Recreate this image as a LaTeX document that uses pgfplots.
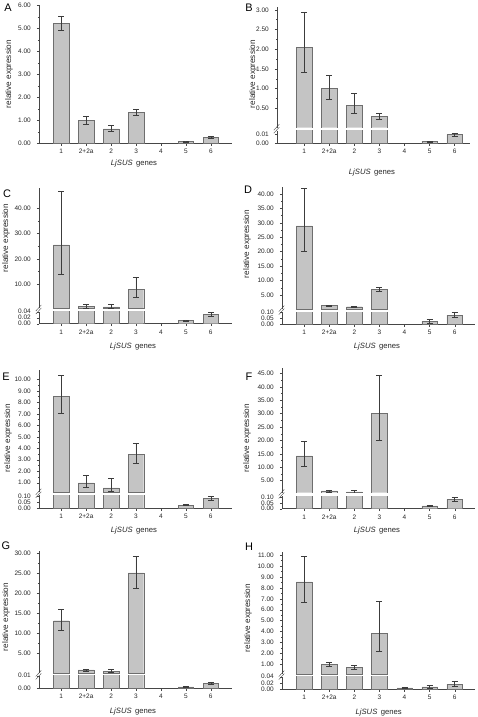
\documentclass[border=0pt]{standalone}
\usepackage{fontspec}
\setmainfont{Liberation Sans}
\usepackage{pgfplots}
\pgfplotsset{compat=1.18}
\definecolor{barfill}{RGB}{196,196,196}
\definecolor{baredge}{RGB}{110,110,110}
\definecolor{errcol}{RGB}{60,60,60}
\definecolor{axcol}{RGB}{70,70,70}
\newcommand\ticks{\fontsize{6.5}{7}\selectfont}
\newcommand\lab{\fontsize{8.2}{9}\selectfont}
\newcommand\xlab{\fontsize{7.7}{9}\selectfont}
\newcommand\panelfont{\fontsize{11}{12}\selectfont}
\pgfplotsset{
  base/.style={scale only axis, anchor=south west, axis y line*=left,
    clip=true, scaled y ticks=false,
    /pgf/number format/assume math mode=true,
    tick label style={font=\ticks, black!85},
    yticklabel style={xshift=-2.5bp, /pgf/number format/.cd, fixed, fixed zerofill, precision=2},
    axis line style={line width=0.5bp, draw=axcol},
    tick style={line width=0.4bp, draw=axcol},
    tick align=outside, major tick length=2.5bp, minor tick length=1.5bp},
  lower/.style={base, axis x line*=bottom, xtick={1,...,7},
    xticklabels={1,2+2a,2,3,4,5,6}, ymin=0},
  upper/.style={base, axis x line=none, minor y tick num=1},
  mybar/.style={ybar, bar width=0.62, bar shift=0pt, fill=barfill, draw=baredge, line width=0.4bp},
  myerr/.style={mybar, error bars/y dir=both, error bars/y explicit,
    error bars/error bar style={line width=0.5bp, draw=errcol},
    error bars/error mark=|, error bars/error mark options={line width=0.5bp, draw=errcol, mark size=3bp}},
}
\begin{document}
\begin{tikzpicture}
\path[use as bounding box] (0,0) rectangle (478bp,-717bp);
% ---------------- A
\begin{axis}[lower, at={(39.3bp,-143.3bp)}, width=192.5bp, height=138bp,
  xmin=0.12, xmax=7.84, ymax=6, ytick={0,1,...,6}, minor y tick num=1]
\addplot[myerr] coordinates {(1,5.23) += (0,0.30) -= (0,0.30) (2,1.01) += (0,0.16) -= (0,0.17)
  (3,0.63) += (0,0.14) -= (0,0.12) (4,1.35) += (0,0.12) -= (0,0.14)
  (6,0.08) += (0,0.02) -= (0,0.02) (7,0.26) += (0,0.03) -= (0,0.03)};
\end{axis}
% ---------------- B
\begin{axis}[lower, at={(277.3bp,-143.3bp)}, width=192.4bp, height=12.6bp,
  xmin=-0.07, xmax=7.6, ymax=0.014, ytick={0,0.01}]
\addplot[mybar, restrict y to domain*=0:0.03] coordinates {(1,2.04) (2,1.01) (3,0.58) (4,0.30)};
\addplot[myerr] coordinates {(6,0.0022) += (0,0.0005) -= (0,0.0005) (7,0.0096) += (0,0.0014) -= (0,0.0015)};
\end{axis}
\begin{axis}[upper, at={(277.3bp,-127.7bp)}, width=192.4bp, height=121bp,
  xmin=-0.07, xmax=7.6, ymin=0.005, ymax=3.08, ytick={0.5,1,...,3}]
\addplot[myerr] coordinates {(1,2.04) += (0,0.91) -= (0,0.63) (2,1.01) += (0,0.33) -= (0,0.27)
  (3,0.58) += (0,0.29) -= (0,0.22) (4,0.30) += (0,0.07) -= (0,0.07)};
\end{axis}
% ---------------- C
\begin{axis}[lower, at={(39.3bp,-323.7bp)}, width=192.4bp, height=12bp,
  xmin=0.12, xmax=7.84, ymax=0.04, ytick={0,0.02,0.04}]
\addplot[mybar, restrict y to domain*=0:0.08] coordinates {(1,25.5) (2,1.2) (3,1.1) (4,8.1)};
\addplot[myerr] coordinates {(6,0.011) += (0,0.002) -= (0,0.002) (7,0.031) += (0,0.008) -= (0,0.007)};
\end{axis}
\begin{axis}[upper, at={(39.3bp,-308.3bp)}, width=192.4bp, height=120.3bp,
  xmin=0.12, xmax=7.84, ymin=0.5, ymax=48, ytick={10,20,30,40}]
\addplot[myerr] coordinates {(1,25.5) += (0,21.4) -= (0,11.6) (2,1.2) += (0,0.9) -= (0,0.6)
  (3,1.1) += (0,1.0) -= (0,0.6) (4,8.1) += (0,4.5) -= (0,3.1)};
\end{axis}
% ---------------- D
\begin{axis}[lower, at={(282.3bp,-324bp)}, width=193bp, height=12bp,
  xmin=0.13, xmax=7.82, ymax=0.1, ytick={0,0.05,0.1}]
\addplot[mybar, restrict y to domain*=0:0.2] coordinates {(1,28.9) (2,1.3) (3,0.95) (4,7.07)};
\addplot[myerr] coordinates {(6,0.022) += (0,0.017) -= (0,0.016) (7,0.075) += (0,0.025) -= (0,0.019)};
\end{axis}
\begin{axis}[upper, at={(282.3bp,-309.3bp)}, width=193bp, height=122.6bp,
  xmin=0.13, xmax=7.82, ymin=0.05, ymax=42.5, ytick={5,10,...,40}]
\addplot[myerr] coordinates {(1,28.9) += (0,12.9) -= (0,8.9) (2,1.3) += (0,0.2) -= (0,0.2)
  (3,0.95) += (0,0.15) -= (0,0.15) (4,7.07) += (0,0.7) -= (0,0.7)};
\end{axis}
% ---------------- E
\begin{axis}[lower, at={(39.3bp,-508.3bp)}, width=192.4bp, height=12.9bp,
  xmin=0.12, xmax=7.84, ymax=0.11, ytick={0,0.05,0.1}]
\addplot[mybar, restrict y to domain*=0:0.2] coordinates {(1,8.53) (2,0.98) (3,0.54) (4,3.47)};
\addplot[myerr] coordinates {(6,0.028) += (0,0.003) -= (0,0.003) (7,0.082) += (0,0.023) -= (0,0.017)};
\end{axis}
\begin{axis}[upper, at={(39.3bp,-492bp)}, width=192.4bp, height=121.8bp,
  xmin=0.12, xmax=7.84, ymin=0.19, ymax=10.8, ytick={1,...,10}]
\addplot[myerr] coordinates {(1,8.53) += (0,1.85) -= (0,1.48) (2,0.98) += (0,0.63) -= (0,0.38)
  (3,0.54) += (0,0.81) -= (0,0.32) (4,3.47) += (0,0.96) -= (0,0.78)};
\end{axis}
% ---------------- F
\begin{axis}[lower, at={(282.3bp,-508.7bp)}, width=193bp, height=12.5bp,
  xmin=0.13, xmax=7.82, ymax=0.11, ytick={0,0.05,0.1}]
\addplot[mybar, restrict y to domain*=0:0.2] coordinates {(1,14.2) (2,1.16) (3,0.78) (4,30.1)};
\addplot[myerr] coordinates {(6,0.024) += (0,0.005) -= (0,0.005) (7,0.082) += (0,0.021) -= (0,0.020)};
\end{axis}
\begin{axis}[upper, at={(282.3bp,-492.7bp)}, width=193bp, height=124.4bp,
  xmin=0.13, xmax=7.82, ymin=0.5, ymax=46.9, ytick={5,10,...,45}]
\addplot[myerr] coordinates {(1,14.2) += (0,5.6) -= (0,4.0) (2,1.16) += (0,0.35) -= (0,0.35)
  (3,0.78) += (0,0.7) -= (0,0.5) (4,30.1) += (0,14.3) -= (0,9.9)};
\end{axis}
% ---------------- G
\begin{axis}[lower, at={(39.3bp,-688.3bp)}, width=192.4bp, height=12.6bp,
  xmin=0.12, xmax=7.84, ymax=0.01, ytick={0,0.01}]
\addplot[mybar, restrict y to domain*=0:0.02] coordinates {(1,13.15) (2,0.83) (3,0.5) (4,25.1)};
\addplot[myerr] coordinates {(6,0.00105) += (0,0.0002) -= (0,0.0002) (7,0.0042) += (0,0.0008) -= (0,0.0008)};
\end{axis}
\begin{axis}[upper, at={(39.3bp,-673.3bp)}, width=192.4bp, height=122.4bp,
  xmin=0.12, xmax=7.84, ymin=0, ymax=30.6, ytick={5,10,...,30}]
\addplot[myerr] coordinates {(1,13.15) += (0,2.85) -= (0,2.35) (2,0.83) += (0,0.25) -= (0,0.2)
  (3,0.5) += (0,0.55) -= (0,0.3) (4,25.1) += (0,4.2) -= (0,3.9)};
\end{axis}
% ---------------- H
\begin{axis}[lower, at={(282.3bp,-689.3bp)}, width=193bp, height=12.6bp,
  xmin=0.13, xmax=7.82, ymax=0.04, ytick={0,0.02,0.04}]
\addplot[mybar, restrict y to domain*=0:0.08] coordinates {(1,8.54) (2,1.03) (3,0.76) (4,3.84)};
\addplot[myerr] coordinates {(5,0.0042) += (0,0.001) -= (0,0.001) (6,0.0074) += (0,0.0042) -= (0,0.0032)
  (7,0.0168) += (0,0.009) -= (0,0.0073)};
\end{axis}
\begin{axis}[upper, at={(282.3bp,-674bp)}, width=193bp, height=122.2bp,
  xmin=0.13, xmax=7.82, ymin=0.12, ymax=11.3, ytick={1,...,11}]
\addplot[myerr] coordinates {(1,8.54) += (0,2.36) -= (0,1.81) (2,1.03) += (0,0.19) -= (0,0.18)
  (3,0.76) += (0,0.18) -= (0,0.21) (4,3.84) += (0,2.93) -= (0,1.68)};
\end{axis}
% ---------------- break marks
\foreach \x/\y in {277.3/129.2, 39.3/310, 282.3/310.6, 39.3/493.7, 282.3/494.4, 39.3/675.4, 282.3/675.6}{
  \draw[axcol, line width=0.4bp] (\x bp-3.5bp,-\y bp-1bp) -- (\x bp+2bp,-\y bp+5bp);
  \draw[axcol, line width=0.4bp] (\x bp-3.5bp,-\y bp-4bp) -- (\x bp+2bp,-\y bp+2bp);
}
% ---------------- labels
\foreach \x/\y/\l in {8/8/A, 249/8/B, 7/194/C, 248/190/D, 6/377/E, 249/377/F, 6/546/G, 249/547/H}{
  \node[font=\panelfont] at (\x bp,-\y bp) {\l};
}
\foreach \x/\y in {9/74, 253/74, 6/238, 247/244, 8/438, 247/438, 6/617, 248/618}{
  \node[font=\lab, rotate=90, black!85] at (\x bp,-\y bp) {relative expression};
}
\foreach \x/\y in {134/164, 372/173, 133/346.7, 377/347, 134/531, 377/531, 133/711.7, 378.7/712.7}{
  \node[font=\xlab, black!85] at (\x bp,-\y bp) {\textit{LjSUS}\hspace{0.45em}genes};
}
\end{tikzpicture}
\end{document}
